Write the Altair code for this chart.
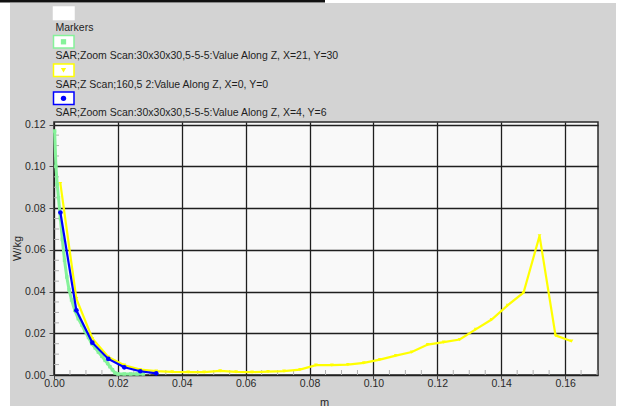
import altair as alt
import pandas as pd

# ---- series data (metres, W/kg) ----
series_names = [
    "SAR;Zoom Scan:30x30x30,5-5-5:Value Along Z, X=21, Y=30",
    "SAR;Z Scan;160,5 2:Value Along Z, X=0, Y=0",
    "SAR;Zoom Scan:30x30x30,5-5-5:Value Along Z, X=4, Y=6",
]
series_colors = ["#86f29a", "#ffff00", "#0000ff"]
series_shapes = ["square", "triangle-down", "circle"]

green_x = [0.0002, 0.0006, 0.0010, 0.0014, 0.0020, 0.0026, 0.0033, 0.0040,
           0.0047, 0.0055, 0.0065, 0.0076, 0.0087, 0.0097, 0.0108, 0.0118,
           0.0129, 0.0139, 0.0150, 0.0160, 0.0168, 0.0175, 0.0183, 0.0191,
           0.0200, 0.0220, 0.0240, 0.0260, 0.0280]
green_y = [0.1170, 0.1000, 0.0915, 0.0850, 0.0750, 0.0650, 0.0550, 0.0470,
           0.0410, 0.0360, 0.0310, 0.0270, 0.0240, 0.0210, 0.0180, 0.0150,
           0.0130, 0.0110, 0.0090, 0.0070, 0.0055, 0.0040, 0.0025, 0.0010,
           0.0005, 0.0005, 0.0005, 0.0005, 0.0005]

yellow_x = [0.002, 0.007, 0.012, 0.017, 0.022, 0.027, 0.032, 0.037, 0.042,
            0.047, 0.052, 0.057, 0.062, 0.067, 0.072, 0.077, 0.082, 0.087,
            0.092, 0.097, 0.102, 0.107, 0.112, 0.117, 0.122, 0.127, 0.132,
            0.137, 0.142, 0.147, 0.152, 0.157, 0.162]
yellow_y = [0.0918, 0.0366, 0.0175, 0.0086, 0.0047, 0.0026, 0.0019, 0.0015,
            0.0014, 0.0014, 0.0020, 0.0015, 0.0014, 0.0016, 0.0019, 0.0026,
            0.0047, 0.0047, 0.0050, 0.0058, 0.0074, 0.0093, 0.0110, 0.0146,
            0.0158, 0.0170, 0.0219, 0.0266, 0.0334, 0.0395, 0.0667, 0.0190,
            0.0162]

blue_x = [0.002, 0.007, 0.012, 0.017, 0.022, 0.027, 0.032]
blue_y = [0.0779, 0.0310, 0.0155, 0.0077, 0.0037, 0.0018, 0.0008]

x_ticks = [0.00, 0.02, 0.04, 0.06, 0.08, 0.10, 0.12, 0.14, 0.16]
y_ticks = [0.00, 0.02, 0.04, 0.06, 0.08, 0.10, 0.12]
x_minor = [round(0.005 * k, 3) for k in range(1, 35) if k % 4]
y_minor = [round(0.005 * k, 3) for k in range(1, 25) if k % 4]

X_MAX, Y_MAX = 0.1703, 0.1213

# ---- layout (pixels) ----
W, H = 544, 253
PAD = {"left": 54, "top": 122, "right": 22, "bottom": 31}
FONT = "Liberation Sans"

x_enc = alt.X(
    "x:Q",
    scale=alt.Scale(domain=[0, X_MAX], nice=False, zero=False),
    axis=alt.Axis(
        values=x_ticks, format=".2f", title="m", grid=True, labelFlush=False,
        titleX=270, titleY=30, titleBaseline="alphabetic",
        labelPadding=-1, tickSize=4,
    ),
)
y_enc = alt.Y(
    "y:Q",
    scale=alt.Scale(domain=[0, Y_MAX], nice=False, zero=False),
    axis=alt.Axis(
        values=y_ticks, format=".2f", title="W/kg", grid=True, labelFlush=False,
        titleX=-32, titleY=126, labelPadding=4, tickSize=5,
    ),
)


def one_row():
    return alt.Chart(pd.DataFrame({"k": [0]}))


layers = []

# white strips and dark rule round the grey panel
layers.append(one_row().mark_rect(color="white").encode(
    x=alt.value(-54), x2=alt.value(-44), y=alt.value(-122), y2=alt.value(284)))
layers.append(one_row().mark_rect(color="white").encode(
    x=alt.value(562), x2=alt.value(566), y=alt.value(-122), y2=alt.value(284)))
layers.append(one_row().mark_rect(color="white").encode(
    x=alt.value(-54), x2=alt.value(566), y=alt.value(-122), y2=alt.value(-119)))
layers.append(one_row().mark_rect(color="#111111").encode(
    x=alt.value(-54), x2=alt.value(271), y=alt.value(-122), y2=alt.value(-119.5)))

# minor ticks inside the plot frame
minor_x_df = pd.DataFrame({"x": x_minor})
minor_y_df = pd.DataFrame({"y": y_minor})
layers.append(alt.Chart(minor_x_df).mark_rule(color="#b0b0b0", strokeWidth=1).encode(
    x=x_enc, y=alt.value(H), y2=alt.value(H - 5)))
layers.append(alt.Chart(minor_y_df).mark_rule(color="#b0b0b0", strokeWidth=1).encode(
    y=y_enc, x=alt.value(0), x2=alt.value(5)))

# the three profiles
series_data = [(green_x, green_y), (yellow_x, yellow_y), (blue_x, blue_y)]
line_widths = [3, 2.2, 2.2]
point_sizes = [12, 14, 22]
for (xs, ys), col, shp, lw, ps in zip(series_data, series_colors, series_shapes,
                                      line_widths, point_sizes):
    df = pd.DataFrame({"x": xs, "y": ys})
    base = alt.Chart(df).encode(x=x_enc, y=y_enc)
    layers.append(base.mark_line(color=col, strokeWidth=lw))
    layers.append(base.mark_point(color=col, shape=shp, filled=True, size=ps, opacity=1))

# legend: a swatch box above each label
legend_labels = ["Markers"] + series_names
legend_strokes = ["white"] + series_colors
legend_shapes = [None] + series_shapes
box_tops = [-115, -86.5, -58, -30]
for lab, stroke, shp, top in zip(legend_labels, legend_strokes, legend_shapes, box_tops):
    layers.append(one_row().mark_rect(fill="white", stroke=stroke, strokeWidth=1.5).encode(
        x=alt.value(-0.5), x2=alt.value(20), y=alt.value(top), y2=alt.value(top + 12.5)))
    if shp is not None:
        layers.append(one_row().mark_point(
            shape=shp, filled=True, color=stroke, size=28, opacity=1).encode(
            x=alt.value(9.5), y=alt.value(top + 6.3)))
    layers.append(one_row().mark_text(
        text=lab, align="left", baseline="alphabetic", font=FONT, fontSize=10.5,
        color="#1e1e1e").encode(x=alt.value(1.5), y=alt.value(top + 23.5)))

chart = alt.layer(*layers).properties(
    width=W, height=H,
    autosize=alt.AutoSizeParams(type="none"),
    padding=PAD,
    background="#d3d3d3",
).configure_view(
    fill="#f9f9f9", stroke="#2a2a2a", strokeWidth=1.5,
).configure_axis(
    domain=False,
    gridColor="#1f1f1f", gridWidth=1.3, gridOpacity=1,
    tickColor="#444444", tickWidth=1,
    labelFont=FONT, labelFontSize=10.5, labelColor="#2a2a2a",
    titleFont=FONT, titleFontSize=11, titleFontWeight="normal", titleColor="#1e1e1e",
)

chart.save("out.html", embed_options={"renderer": "svg", "actions": False})
